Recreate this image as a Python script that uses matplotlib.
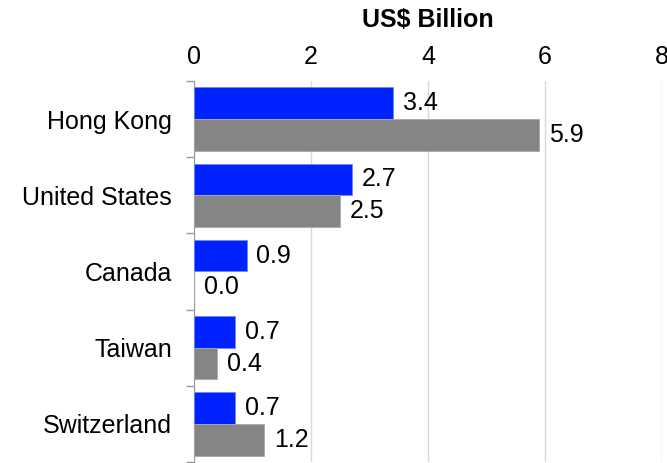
import matplotlib.pyplot as plt
import numpy as np

plt.rcParams['font.family'] = ['Liberation Sans', 'DejaVu Sans']

countries = ["Hong Kong", "United States", "Canada", "Taiwan", "Switzerland"]
series_a = [3.4, 2.7, 0.9, 0.7, 0.7]
series_b = [5.9, 2.5, 0.0, 0.4, 1.2]
x_ticks = [0, 2, 4, 6, 8]

blue = "#0022ff"
grey = "#858585"
fs = 18

fig = plt.figure(figsize=(6.67, 4.63), dpi=100)
ax = fig.add_axes([194 / 667, 1 / 463, 468 / 667, 381 / 463])

n = len(countries)
pos = np.arange(n)
h = 0.415
ax.barh(pos - h / 2, series_a, height=h, color=blue, edgecolor="#6f86ff", linewidth=0.6, zorder=3)
ax.barh(pos + h / 2, series_b, height=h, color=grey, edgecolor="#a8a8a8", linewidth=0.6, zorder=3)

for p, va_, vb_ in zip(pos, series_a, series_b):
    ax.annotate(f"{va_:.1f}", (va_, p - h / 2), xytext=(7, 0), textcoords="offset points",
                va="center", ha="left", fontsize=fs)
    ax.annotate(f"{vb_:.1f}", (vb_, p + h / 2), xytext=(7, 0), textcoords="offset points",
                va="center", ha="left", fontsize=fs)

ax.set_xlim(0, 8)
ax.set_ylim(n - 0.5, -0.5)
ax.xaxis.tick_top()
ax.set_xticks(x_ticks)
ax.set_xticklabels([str(t) for t in x_ticks], fontsize=fs)
ax.tick_params(axis="x", length=0, pad=9)
ax.xaxis.grid(True, color="#d9d9d9", linewidth=1, zorder=0)

ax.set_yticks(pos)
ax.set_yticklabels(countries, fontsize=fs)
ax.tick_params(axis="y", which="major", length=0, pad=16)
ax.set_yticks(np.arange(-0.5, n + 0.5, 1), minor=True)
ax.tick_params(axis="y", which="minor", length=6, color="#999999", width=1)

for s in ["top", "right", "bottom"]:
    ax.spines[s].set_visible(False)
ax.spines["left"].set_color("#999999")

fig.text(428 / 667, 1 - 20 / 463, "US$ Billion", ha="center", va="center",
         fontsize=fs, fontweight="bold")

fig.savefig("out.png", dpi=100)
